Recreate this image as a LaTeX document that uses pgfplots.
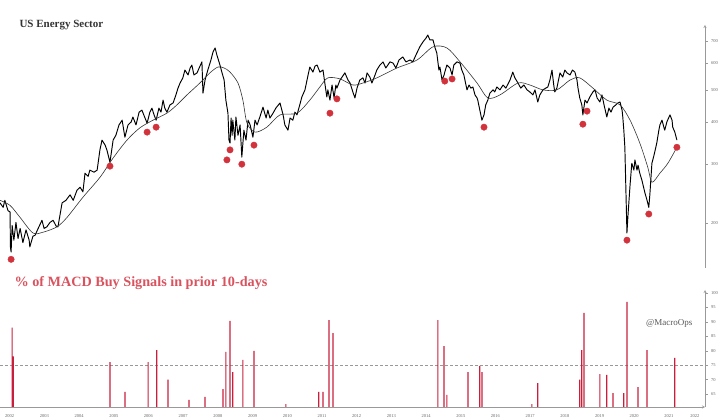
\documentclass[border=0pt]{standalone}
\usepackage{pgfplots}
\pgfplotsset{compat=1.18}
\usepackage{fontspec}
\setmainfont{Liberation Serif}
\definecolor{barred}{HTML}{C8203C}
\definecolor{dotred}{HTML}{D2323C}
\definecolor{titlered}{HTML}{D9535F}
\definecolor{titlegray}{HTML}{333333}
\definecolor{axgray}{HTML}{999999}

\pgfplotstableread{
x y
2002.22 230
2002.31 223
2002.36 234
2002.45 218
2002.51 216
2002.52 170
2002.54 164
2002.57 197
2002.62 178
2002.68 201
2002.74 180
2002.80 193
2002.88 175
2002.97 191
2003.06 178
2003.08 170
2003.17 183
2003.23 184
2003.32 193
2003.43 204
2003.49 193
2003.57 195
2003.66 201
2003.75 204
2003.84 196
2003.89 195
2004.01 230
2004.12 234
2004.24 243
2004.33 234
2004.44 251
2004.53 256
2004.61 248
2004.67 282
2004.76 276
2004.81 288
2004.93 284
2005.02 288
2005.10 331
2005.16 354
2005.25 342
2005.30 331
2005.39 304
2005.48 354
2005.56 366
2005.65 393
2005.74 406
2005.82 361
2005.91 393
2006.00 401
2006.05 415
2006.14 393
2006.23 429
2006.31 435
2006.40 412
2006.46 398
2006.54 429
2006.60 441
2006.66 421
2006.72 406
2006.80 441
2006.86 429
2006.92 466
2006.97 441
2007.03 429
2007.12 451
2007.21 457
2007.29 483
2007.35 506
2007.41 524
2007.49 543
2007.55 573
2007.64 554
2007.70 581
2007.75 593
2007.81 554
2007.90 562
2007.96 581
2008.04 606
2008.07 489
2008.13 535
2008.21 573
2008.30 614
2008.36 649
2008.42 667
2008.47 636
2008.56 593
2008.62 562
2008.68 535
2008.73 466
2008.79 426
2008.82 354
2008.85 347
2008.88 412
2008.91 366
2008.93 406
2008.99 354
2009.02 415
2009.08 366
2009.14 393
2009.19 315
2009.25 379
2009.31 354
2009.37 406
2009.43 393
2009.51 361
2009.57 406
2009.63 393
2009.71 415
2009.80 444
2009.89 412
2009.94 435
2010.00 412
2010.09 426
2010.17 441
2010.29 457
2010.38 421
2010.43 393
2010.52 379
2010.58 412
2010.66 406
2010.72 429
2010.78 421
2010.86 451
2010.92 476
2011.01 500
2011.10 554
2011.15 585
2011.24 565
2011.30 589
2011.36 593
2011.44 565
2011.53 573
2011.59 517
2011.64 476
2011.67 500
2011.73 466
2011.79 517
2011.85 473
2011.90 517
2011.93 506
2012.02 535
2012.10 550
2012.16 562
2012.25 535
2012.31 524
2012.39 493
2012.45 473
2012.51 506
2012.59 535
2012.68 543
2012.74 524
2012.80 562
2012.88 546
2012.94 524
2013.03 554
2013.08 573
2013.17 593
2013.26 606
2013.34 581
2013.46 606
2013.55 601
2013.63 581
2013.72 614
2013.83 627
2013.92 606
2014.04 614
2014.12 606
2014.21 636
2014.32 672
2014.41 695
2014.50 714
2014.55 729
2014.61 705
2014.70 705
2014.76 667
2014.81 644
2014.87 573
2014.90 585
2014.96 535
2015.02 554
2015.04 565
2015.10 593
2015.19 581
2015.25 554
2015.30 593
2015.39 606
2015.48 601
2015.53 573
2015.59 554
2015.65 517
2015.68 500
2015.74 517
2015.79 506
2015.85 510
2015.91 483
2015.97 473
2015.99 466
2016.05 435
2016.11 406
2016.17 421
2016.22 451
2016.28 466
2016.34 489
2016.43 500
2016.48 493
2016.54 510
2016.63 500
2016.72 517
2016.80 506
2016.92 535
2017.00 565
2017.06 543
2017.15 524
2017.23 506
2017.32 517
2017.41 500
2017.49 493
2017.58 483
2017.64 500
2017.72 460
2017.78 483
2017.87 500
2017.95 506
2018.01 510
2018.07 535
2018.13 573
2018.18 517
2018.21 493
2018.27 506
2018.36 562
2018.44 546
2018.50 573
2018.56 562
2018.65 554
2018.72 573
2018.79 565
2018.85 535
2018.88 506
2018.93 473
2018.99 451
2019.02 421
2019.08 466
2019.14 457
2019.22 476
2019.31 493
2019.37 500
2019.43 473
2019.51 460
2019.57 483
2019.63 451
2019.71 415
2019.77 441
2019.83 429
2019.89 444
2019.97 451
2020.03 457
2020.09 460
2020.15 435
2020.17 415
2020.20 379
2020.23 337
2020.26 251
2020.29 187
2020.32 211
2020.38 260
2020.43 302
2020.49 288
2020.52 309
2020.58 288
2020.61 298
2020.66 282
2020.72 269
2020.81 246
2020.87 234
2020.92 223
2020.95 243
2021.01 302
2021.07 319
2021.15 347
2021.21 379
2021.24 393
2021.30 406
2021.36 385
2021.38 379
2021.44 401
2021.53 421
2021.59 406
2021.61 387
2021.67 374
2021.73 354
}\price

\pgfplotstableread{
x y
2002.22 234
2002.51 226
2002.80 208
2003.17 187
2003.46 188
2003.86 195
2004.15 208
2004.61 239
2005.10 274
2005.48 313
2005.88 354
2006.25 385
2006.63 406
2007.03 426
2007.32 451
2007.61 483
2007.98 524
2008.27 562
2008.50 585
2008.68 581
2008.85 565
2009.08 524
2009.22 466
2009.34 398
2009.57 374
2009.91 387
2010.29 421
2010.78 426
2011.15 466
2011.44 510
2011.67 543
2012.02 539
2012.39 517
2012.68 524
2013.08 543
2013.66 581
2014.24 614
2014.70 672
2015.10 667
2015.48 606
2015.97 524
2016.28 473
2016.63 483
2017.15 524
2017.49 517
2017.87 500
2018.27 500
2018.65 535
2018.93 543
2019.31 506
2019.71 466
2020.09 451
2020.38 406
2020.66 347
2020.89 294
2021.01 265
2021.24 282
2021.47 302
2021.73 337
}\mavg

\pgfplotstableread{
x y
2002.54 156
2005.39 296
2006.46 374
2006.72 387
2008.76 309
2008.85 331
2009.19 300
2009.54 342
2011.73 426
2011.93 470
2015.04 531
2015.25 539
2016.17 387
2019.02 395
2019.14 432
2020.29 178
2020.92 213
2021.73 337
}\signals

\pgfplotstableread{
x y
2002.57 88
2002.60 78
2005.39 76
2005.82 65.7
2006.49 76
2006.74 80.2
2007.06 70
2007.67 63
2008.13 64
2008.65 66.7
2008.73 79.6
2008.85 90.3
2008.93 72.6
2009.22 76.8
2009.54 79.9
2010.46 61.5
2011.41 65.7
2011.53 65.7
2011.70 90.6
2011.82 86.1
2014.84 90.6
2015.02 81.6
2015.10 64.7
2015.71 72.6
2016.05 74.7
2016.11 72.6
2017.55 61.5
2017.72 68.8
2018.93 70
2018.99 80.2
2019.05 93.1
2019.51 71.9
2019.71 71.6
2019.89 65.3
2020.20 65.3
2020.29 96.9
2020.61 67.4
2020.87 80.2
2021.67 77.5
}\macd

\begin{document}
\begin{tikzpicture}
\useasboundingbox (0pt,0pt) rectangle (720pt,420pt);
\pgfplotsset{
  every tick label/.append style={font=\fontsize{4.5}{5}\selectfont, text=black!60},
  axis line style={-, axgray},
}
% top panel
\begin{axis}[
  at={(0pt,152pt)}, anchor=south west, scale only axis,
  width=705pt, height=243pt,
  xmin=2002.22, xmax=2022.54,
  ymode=log, ymin=147, ymax=781,
  axis x line=none, axis y line=right,
  ytick={200,300,400,500,600,700},
  yticklabels={200,300,400,500,600,700},
  tick align=outside, major tick length=2.5pt,
  tick style={axgray},
  clip=false,
]
\addplot[black, line width=0.95pt, line join=round] table[x=x,y=y] {\price};
\addplot[black!80, line width=0.6pt, smooth] table[x=x,y=y] {\mavg};
\addplot[only marks, mark=*, mark size=3.2pt, mark options={draw=dotred, fill=dotred}] table[x=x,y=y] {\signals};
\end{axis}
% bottom panel
\begin{axis}[
  at={(0pt,13pt)}, anchor=south west, scale only axis,
  width=705pt, height=117pt,
  xmin=2002.22, xmax=2022.54,
  ymin=60.5, ymax=101,
  axis x line=bottom, axis y line=right,
  scaled y ticks=false,
  ytick={65,70,75,80,85,90,95,100},
  yticklabels={65,70,75,80,85,90,95,100},
  xtick={2002.5,2003.5,2004.5,2005.5,2006.5,2007.5,2008.5,2009.5,2010.5,2011.5,2012.5,2013.5,2014.5,2015.5,2016.5,2017.5,2018.5,2019.5,2020.5,2021.5,2022.25},
  xticklabels={2002,2003,2004,2005,2006,2007,2008,2009,2010,2011,2012,2013,2014,2015,2016,2017,2018,2019,2020,2021,2022},
  x tick label style={yshift=-1pt},
  xtick style={draw=none},
  extra x ticks={2003,2004,2005,2006,2007,2008,2009,2010,2011,2012,2013,2014,2015,2016,2017,2018,2019,2020,2021,2022},
  extra x tick labels={},
  extra x tick style={major tick length=13pt, tick style={draw=axgray}},
  ytick style={axgray}, tick align=outside, major tick length=2.5pt,
]
\addplot[axgray, densely dashed, line width=0.5pt] coordinates {(2002.22,75) (2022.54,75)};
\addplot[ybar, bar width=1.2pt, fill=barred, draw=none] table[x=x,y=y] {\macd};
\end{axis}
\node[anchor=west, font=\bfseries\fontsize{11}{13}\selectfont, text=titlegray] at (16pt,395pt) {US Energy Sector};
\node[anchor=west, font=\bfseries\fontsize{14.2}{16}\selectfont, text=titlered] at (11pt,137pt) {\% of MACD Buy Signals in prior 10-days};
\node[anchor=east, font=\fontsize{9}{10}\selectfont, text=black!65] at (696pt,97pt) {@MacroOps};
\end{tikzpicture}
\end{document}
